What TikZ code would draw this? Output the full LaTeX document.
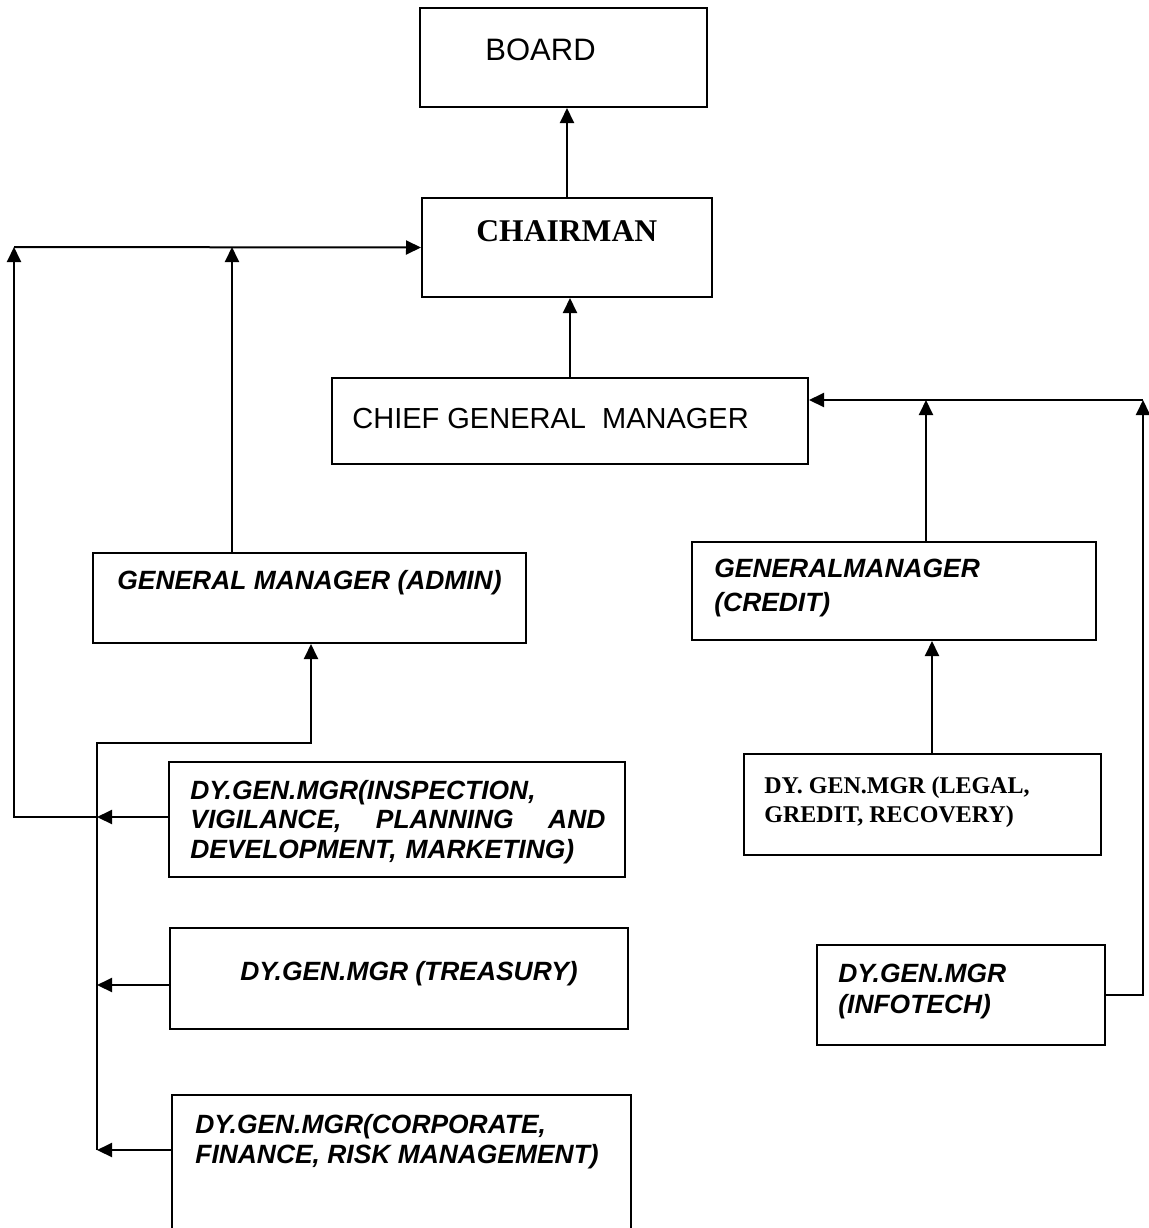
\documentclass[tikz,border=0pt]{standalone}
\usepackage{fontspec}
\setsansfont{Liberation Sans}
\newfontfamily\timesfont{Liberation Serif}
\usetikzlibrary{arrows.meta,fit}

\begin{document}
\begin{tikzpicture}[x=0.5pt, y=-0.5pt]
    \tikzset{
        box/.style={draw, line width=1pt, inner sep=0pt},
        arr/.style={-{Triangle[length=7.5pt,width=7pt]}, line width=1pt},
        lbl/.style={inner sep=0pt, anchor=base west, align=left},
    }
    %\draw[help lines] (0,0) grid (1149,1228);
    \useasboundingbox (0,0) rectangle (1149,1228);

    % boxes
    \node[box, fit={(420,8) (707,107)}] (board) {};
    \node[box, fit={(422,198) (712,297)}] (chair) {};
    \node[box, fit={(332,378) (808,464)}] (cgm) {};
    \node[box, fit={(93,553) (526,643)}] (gmadmin) {};
    \node[box, fit={(692,542) (1096,640)}] (gmcredit) {};
    \node[box, fit={(169,762) (625,877)}] (insp) {};
    \node[box, fit={(744,754) (1101,855)}] (legal) {};
    \node[box, fit={(170,928) (628,1029)}] (treas) {};
    \node[box, fit={(817,945) (1105,1045)}] (info) {};
    \node[box, fit={(172,1095) (631,1250)}] (corp) {};

    % texts (multi-line ones sit on their last line)
    \node[lbl, font=\sffamily\fontsize{15.5}{18}\selectfont] (boardtxt) at (485,60) {BOARD};
    \node[lbl, font=\timesfont\bfseries\fontsize{15.8}{18}\selectfont] (chairtxt) at (476,241) {CHAIRMAN};
    \node[lbl, font=\sffamily\fontsize{14.5}{17}\selectfont] (cgmtxt) at (352,428) {CHIEF GENERAL~ MANAGER};
    \node[lbl, font=\sffamily\bfseries\itshape\fontsize{13.2}{15}\selectfont] (admintxt) at (117,589) {GENERAL MANAGER (ADMIN)};
    \node[lbl, font=\sffamily\bfseries\itshape\fontsize{13.2}{17}\selectfont] (credittxt) at (714,611) {GENERALMANAGER\\(CREDIT)};
    \node[lbl, text width=207.5pt, font=\sffamily\bfseries\itshape\fontsize{13.2}{14.75}\selectfont] (insptxt) at (190,799) {DY.GEN.MGR(INSPECTION,\\
        VIGILANCE,\hfill PLANNING\hfill AND\\
        DEVELOPMENT, MARKETING)};
    \node[lbl, font=\timesfont\bfseries\fontsize{12}{14.5}\selectfont] (legaltxt) at (764,822) {DY. GEN.MGR (LEGAL,\\GREDIT, RECOVERY)};
    \node[lbl, font=\sffamily\bfseries\itshape\fontsize{13.2}{15}\selectfont] (treastxt) at (240,980) {DY.GEN.MGR (TREASURY)};
    \node[lbl, font=\sffamily\bfseries\itshape\fontsize{13.2}{15.5}\selectfont] (infotxt) at (838,1013) {DY.GEN.MGR\\(INFOTECH)};
    \node[lbl, font=\sffamily\bfseries\itshape\fontsize{13.2}{15}\selectfont] (corptxt) at (195,1163) {DY.GEN.MGR(CORPORATE,\\FINANCE, RISK MANAGEMENT)};

    % bends of the connectors
    \coordinate (leftup) at (14,247);
    \coordinate (adminup) at (232,247);
    \coordinate (busT) at (97,743);
    \coordinate (busB) at (97,1150);
    \coordinate (adminlow) at (311,743);
    \coordinate (rightup) at (1143,400);
    \coordinate (creditup) at (926,400);
    \coordinate (legalup) at (932,700);

    % upper chain
    \draw[arr] (chair.north) -- (chair.north |- board.south);
    \draw[arr] (cgm.north) -- (cgm.north |- chair.south);

    % left side
    \draw[arr] (leftup) -- (chair.west);
    \draw[arr] (gmadmin.north -| adminup) -- (adminup);
    \draw[arr] (insp.west |- 0,817) -- (busT |- 0,817);
    \draw[arr] (busT |- 0,817) -- (leftup |- 0,817) -- (leftup);
    \draw[arr] (busB) -- (busT) -- (adminlow) -- (gmadmin.south -| adminlow);
    \draw[arr] (treas.west |- 0,985) -- (busT |- 0,985);
    \draw[arr] (corp.west |- busB) -- (busB);

    % right side
    \draw[arr] (rightup) -- (cgm.east |- rightup);
    \draw[arr] (gmcredit.north -| creditup) -- (creditup);
    \draw[arr] (legal.north -| legalup) -- (gmcredit.south -| legalup);
    \draw[arr] (info.east) -- (info.east -| rightup) -- (rightup);
\end{tikzpicture}
\end{document}
